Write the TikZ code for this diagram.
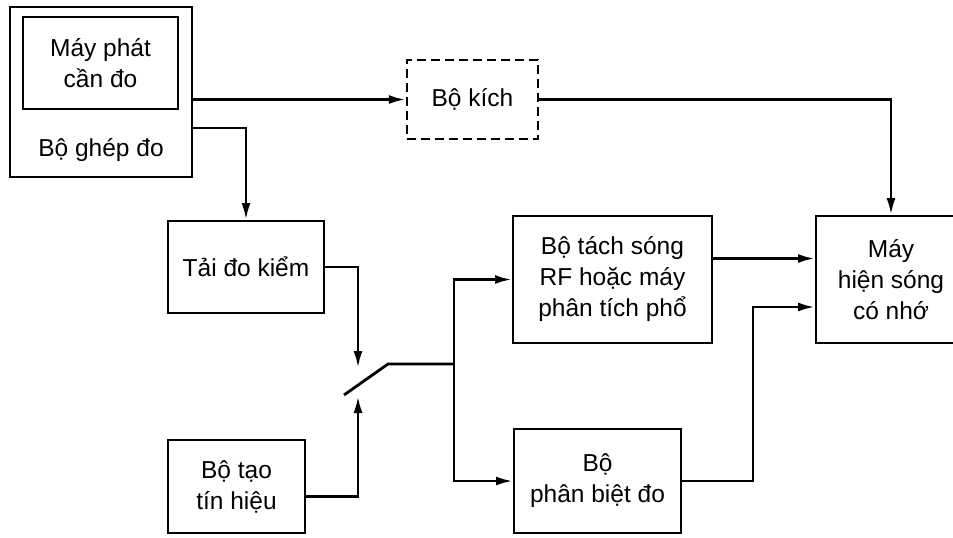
\documentclass[tikz,border=0pt]{standalone}
\usepackage{fontspec}
\setmainfont{Liberation Sans}
\usepackage{tikz}
\usetikzlibrary{calc}
\usetikzlibrary{arrows.meta}
\tikzset{
  block/.style = {draw, line width=2pt, align=center, inner sep=0pt}
}
\tikzset{
  dashblock/.style = {block, line width=2.4pt, dash pattern=on 9pt off 5pt}
}
\tikzset{
  conn/.style = {line width=2.8pt}
}
\tikzset{
  every node/.style = {font = \fontsize{24.5}{31}\selectfont}
}
\tikzset{
    >={Latex[length=17pt,width=9pt]}
}

\begin{document}
\begin{tikzpicture}[x=1pt, y=-1pt]
  \useasboundingbox (0,0) rectangle (953,538);

  % Coupler with the device under test
  \node[block, minimum width=182pt, minimum height=170pt] (ghep) at (101,92) {};
  \node[block, minimum width=155pt, minimum height=92pt] (mayphat) at (100.5,63)
    {Máy phát\\cần đo};
  \node (ghepten) at (101,150) {Bộ ghép đo};

  \node[dashblock, minimum width=131pt, minimum height=79pt] (kich) at (472.5,99.5)
    {Bộ kích};

  \node[block, minimum width=156pt, minimum height=92pt] (tai) at (246,267)
    {Tải đo kiểm};
  \node[block, minimum width=137pt, minimum height=93pt] (tao) at (236.5,486.5)
    {Bộ tạo\\tín hiệu};

  \node[block, minimum width=199pt, minimum height=127pt] (tach) at (612.5,279.5)
    {Bộ tách sóng\\RF hoặc máy\\phân tích phổ};
  \node[block, minimum width=167pt, minimum height=104pt] (phanbiet) at (597.5,481)
    {Bộ\\phân biệt đo};

  \node[block, minimum width=150pt, minimum height=127pt] (mayhien) at (891,279.5)
    {Máy\\hiện sóng\\có nhớ};

  % Switch
  \coordinate (sw1) at (344,395);
  \coordinate (sw2) at (388,364);
  \coordinate (sw3) at (454,364);
  \coordinate (swtop) at (358,368);
  \coordinate (swbot) at (358,396);

  % Connectors
  \draw[conn,->] (ghep.east |- kich.west) -- (kich.west);
  \draw[conn,->] ([yshift=-36pt]ghep.east) -| (tai.north);
  \draw[conn,->] (kich.east) -| (mayhien.north);
  \draw[conn,->] (tai.east) -| (swtop);
  \draw[conn,->] ([yshift=-10pt]tao.east) -| (swbot);
  \draw[conn] (sw1) -- (sw2) -- (sw3);
  \draw[conn,->] (sw3) |- (tach.west);
  \draw[conn,->] (sw3) |- (phanbiet.west);
  \draw[conn,->] ([yshift=21pt]tach.east) -- ([yshift=21pt]mayhien.west);
  \draw[conn,->] (phanbiet.east) -- ++(71,0) |- ([yshift=-27.5pt]mayhien.west);
\end{tikzpicture}
\end{document}
